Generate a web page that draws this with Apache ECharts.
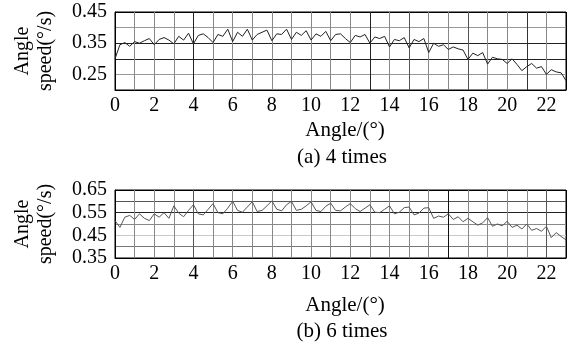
<!DOCTYPE html>
<html>
<head>
<meta charset="utf-8">
<script src="https://cdn.jsdelivr.net/npm/echarts@6/dist/echarts.min.js"></script>
<style>html,body{margin:0;padding:0;background:#fff;}#c{width:573px;height:348px;}</style>
</head>
<body>
<div id="c"></div>
<script>
const angles = [0,0.25,0.5,0.75,1,1.25,1.5,1.75,2,2.25,2.5,2.75,3,3.25,3.5,3.75,4,4.25,4.5,4.75,5,5.25,5.5,5.75,6,6.25,6.5,6.75,7,7.25,7.5,7.75,8,8.25,8.5,8.75,9,9.25,9.5,9.75,10,10.25,10.5,10.75,11,11.25,11.5,11.75,12,12.25,12.5,12.75,13,13.25,13.5,13.75,14,14.25,14.5,14.75,15,15.25,15.5,15.75,16,16.25,16.5,16.75,17,17.25,17.5,17.75,18,18.25,18.5,18.75,19,19.25,19.5,19.75,20,20.25,20.5,20.75,21,21.25,21.5,21.75,22,22.25,22.5,22.75,23];

const speed4 = [0.300,0.345,0.352,0.340,0.355,0.350,0.358,0.365,0.345,0.362,0.368,0.360,0.348,0.372,0.360,0.382,0.348,0.375,0.380,0.368,0.352,0.378,0.372,0.395,0.355,0.385,0.372,0.395,0.360,0.378,0.385,0.392,0.358,0.380,0.378,0.395,0.362,0.385,0.375,0.390,0.360,0.380,0.372,0.388,0.358,0.378,0.380,0.365,0.352,0.375,0.370,0.378,0.350,0.370,0.365,0.372,0.338,0.362,0.358,0.368,0.335,0.362,0.355,0.365,0.320,0.350,0.340,0.345,0.330,0.338,0.332,0.328,0.298,0.318,0.310,0.320,0.283,0.305,0.300,0.298,0.285,0.300,0.282,0.262,0.275,0.285,0.270,0.275,0.250,0.265,0.258,0.255,0.230];

const speed6 = [0.515,0.485,0.530,0.538,0.520,0.545,0.525,0.515,0.545,0.530,0.550,0.525,0.580,0.548,0.532,0.560,0.585,0.545,0.540,0.565,0.590,0.550,0.545,0.570,0.600,0.560,0.552,0.575,0.598,0.555,0.560,0.580,0.602,0.565,0.558,0.585,0.600,0.560,0.565,0.580,0.598,0.560,0.555,0.578,0.592,0.560,0.558,0.575,0.590,0.568,0.555,0.570,0.585,0.552,0.550,0.565,0.580,0.545,0.552,0.572,0.575,0.540,0.548,0.570,0.572,0.525,0.535,0.530,0.545,0.520,0.532,0.510,0.525,0.510,0.495,0.505,0.528,0.490,0.500,0.492,0.512,0.485,0.495,0.478,0.500,0.472,0.480,0.468,0.490,0.440,0.462,0.445,0.430];

const xTickLabels = ['0','2','4','6','8','10','12','14','16','18','20','22'];
const yTickLabelsA = ['0.45','0.35','0.25'];
const yTickLabelsB = ['0.65','0.55','0.45','0.35'];
const xTitle = 'Angle/(°)';
const yTitle = 'Angle\nspeed(°/s)';
const captionA = '(a) 4 times';
const captionB = '(b) 6 times';

const FONT = "'Liberation Serif','Times New Roman',serif";
const chart = echarts.init(document.getElementById('c'), null, {renderer:'canvas'});

function pair(xs, ys){ return xs.map((x,i)=>[x, ys[i]]); }
function fmtY(list){ return v => { const s = (Math.round(v*100)/100).toFixed(2); return list.indexOf(s) >= 0 ? s : ''; }; }
function fmtX(v){ const s = String(Math.round(v)); return xTickLabels.indexOf(s) >= 0 && Math.abs(v-Math.round(v))<1e-6 ? s : ''; }

const vColsA = ['#888','#888','#888','#888','#222','#888','#888','#888','#888','#888','#888','#888','#888','#222','#888','#555','#888','#888','#555','#888','#888','#333','#888','#000'];
const vColsB = ['#000','#888','#888','#888','#555','#888','#888','#888','#888','#888','#888','#888','#888','#888','#888','#888','#888','#111','#888','#888','#888','#888','#555','#000'];
const hColsA = ['#000','#999','#222','#222','#999','#000'];
const hColsB = ['#000','#777','#c8c8c8','#888','#222','#555','#000'];

function xAxis(gi, cols){
  return {type:'value', gridIndex:gi, min:0, max:23, interval:1,
    axisLine:{show:true, lineStyle:{color:'#000', width:1}},
    axisTick:{show:false},
    axisLabel:{formatter:fmtX, color:'#000', fontFamily:FONT, fontSize:20, margin:6},
    splitLine:{show:true, lineStyle:{color:cols, width:1}}};
}
function yAxis(gi, min, max, list, cols){
  return {type:'value', gridIndex:gi, min:min, max:max, interval:0.05,
    axisLine:{show:true, lineStyle:{color:'#000', width:1}},
    axisTick:{show:false},
    axisLabel:{formatter:fmtY(list), color:'#000', fontFamily:FONT, fontSize:20, margin:8},
    splitLine:{show:true, lineStyle:{color:cols, width:1}}};
}

const option = {
  animation:false,
  backgroundColor:'#fff',
  grid:[
    {left:115, top:12, width:451, height:78, show:true, borderColor:'#000', borderWidth:1, containLabel:false},
    {left:115, top:190, width:451, height:68, show:true, borderColor:'#000', borderWidth:1, containLabel:false}
  ],
  xAxis:[xAxis(0, vColsA), xAxis(1, vColsB)],
  yAxis:[yAxis(0, 0.20, 0.45, yTickLabelsA, hColsA), yAxis(1, 0.35, 0.65, yTickLabelsB, hColsB)],
  series:[
    {type:'line', xAxisIndex:0, yAxisIndex:0, data:pair(angles, speed4), showSymbol:false, smooth:false,
     lineStyle:{color:'#222', width:1}},
    {type:'line', xAxisIndex:1, yAxisIndex:1, data:pair(angles, speed6), showSymbol:false, smooth:false,
     lineStyle:{color:'#555', width:1}}
  ],
  graphic:[
    {type:'text', x:34, y:51, rotation:Math.PI/2, style:{text:yTitle, align:'center', verticalAlign:'middle', font:'20px '+FONT, fill:'#000', lineHeight:23}},
    {type:'text', x:34, y:224, rotation:Math.PI/2, style:{text:yTitle, align:'center', verticalAlign:'middle', font:'20px '+FONT, fill:'#000', lineHeight:23}},
    {type:'text', x:345, y:130, style:{text:xTitle, align:'center', verticalAlign:'middle', font:'21px '+FONT, fill:'#000'}},
    {type:'text', x:342, y:157, style:{text:captionA, align:'center', verticalAlign:'middle', font:'21px '+FONT, fill:'#000'}},
    {type:'text', x:345, y:305, style:{text:xTitle, align:'center', verticalAlign:'middle', font:'21px '+FONT, fill:'#000'}},
    {type:'text', x:342, y:331, style:{text:captionB, align:'center', verticalAlign:'middle', font:'21px '+FONT, fill:'#000'}}
  ]
};
chart.setOption(option);
</script>
</body>
</html>
